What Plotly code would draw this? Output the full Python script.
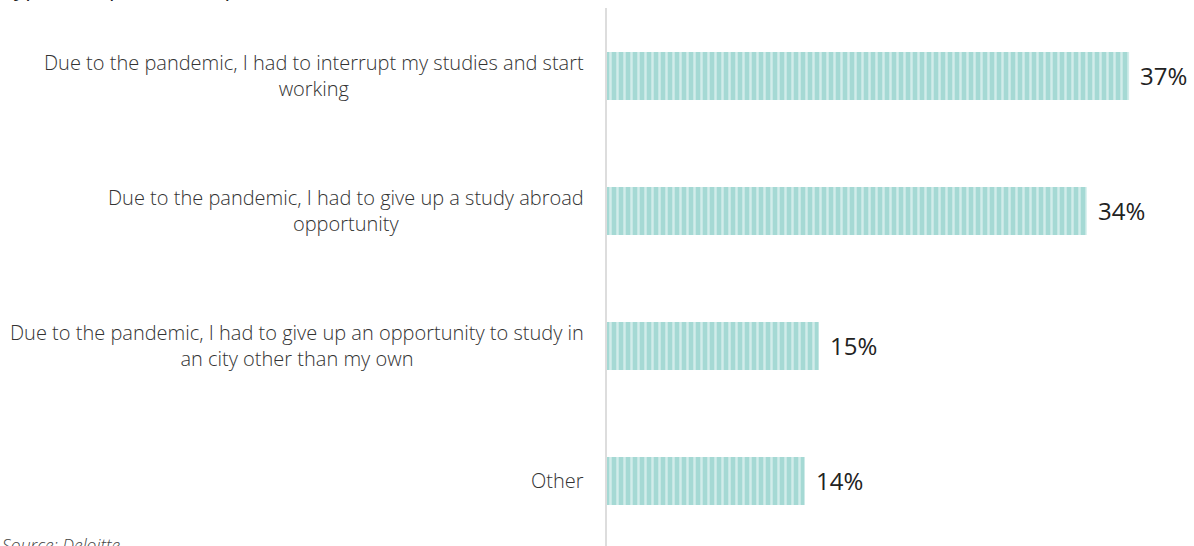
import plotly.graph_objects as go

categories = [
    "Due to the pandemic, I had to interrupt my studies and start<br>working",
    "Due to the pandemic, I had to give up a study abroad<br>opportunity",
    "Due to the pandemic, I had to give up an opportunity to study in<br>an city other than my own",
    "Other",
]
values = [37, 34, 15, 14]
value_labels = ["37%", "34%", "15%", "14%"]

title_text = "Type of impact of the pandemic on studies"
source_text = "Source: Deloitte"

teal = "#a5d9d4"
ypos = list(range(len(categories)))

fig = go.Figure()
fig.add_trace(go.Bar(
    x=values,
    y=ypos,
    orientation="h",
    width=0.356,
    marker=dict(
        color=teal,
        line=dict(width=0),
        pattern=dict(shape="|", size=7, solidity=0.35, fgcolor="white", bgcolor=teal),
    ),
    hoverinfo="skip",
))

annotations = []
for i, (c, v, lab) in enumerate(zip(categories, values, value_labels)):
    annotations.append(dict(
        x=0, xref="paper", y=i, yref="y", text=c, showarrow=False,
        xanchor="right", yanchor="middle", align="center", xshift=-21, yshift=1,
        font=dict(family="Open Sans", size=20, weight=300, color="#333333"),
    ))
    annotations.append(dict(
        x=v, xref="x", y=i, yref="y", text=lab, showarrow=False,
        xanchor="left", yanchor="middle", xshift=9, yshift=1,
        font=dict(family="Open Sans", size=24, color="#222222"),
    ))

annotations.append(dict(
    x=0, xref="paper", xanchor="left", xshift=-607,
    y=0, yref="paper", yanchor="top", yshift=15,
    text="<i>" + source_text + "</i>", showarrow=False,
    font=dict(family="Open Sans", size=17.5, weight=300, color="#444444"),
))

fig.update_layout(
    width=1194, height=546,
    margin=dict(l=607, r=0, t=8, b=0),
    paper_bgcolor="white", plot_bgcolor="white",
    showlegend=False,
    title=dict(
        text=title_text, x=0, xanchor="left", xref="container",
        y=1.0, yref="container", yanchor="bottom", pad=dict(b=4, l=2),
        font=dict(family="Open Sans", size=22, color="#222222"),
    ),
    xaxis=dict(range=[0, 41.6], visible=False, fixedrange=True),
    yaxis=dict(
        range=[3.481, -0.504], showticklabels=False, showgrid=False, zeroline=False,
        showline=True, linecolor="#dddddd", linewidth=1.5, ticks="",
    ),
    annotations=annotations,
)

fig.write_html(
    "out.html",
    config={"displayModeBar": False},
    post_script="document.body.style.margin='0';document.body.style.overflow='hidden';",
)
